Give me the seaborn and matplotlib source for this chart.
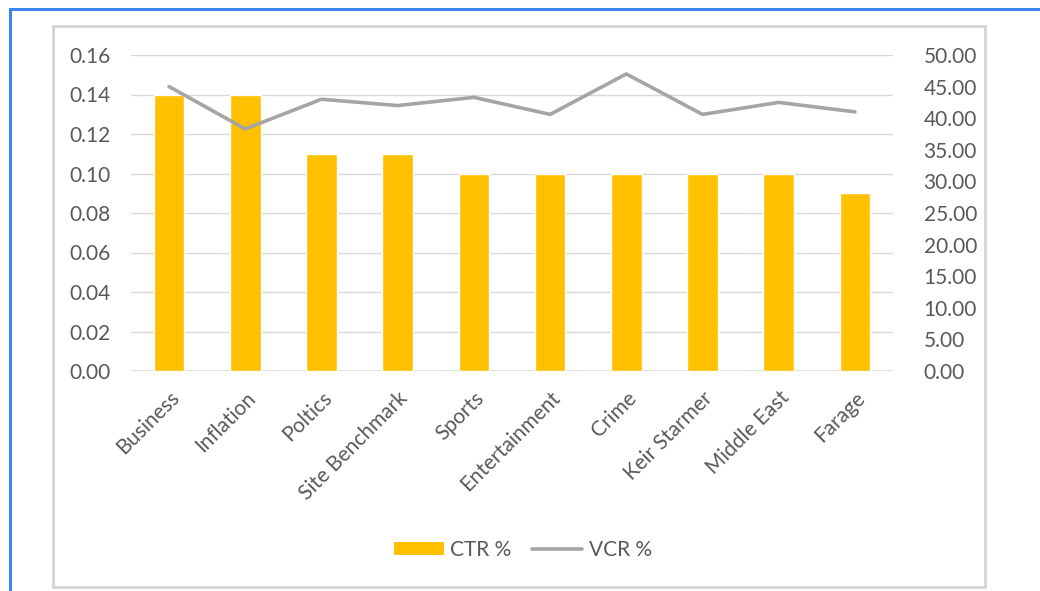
import matplotlib
matplotlib.use("Agg")
import matplotlib.pyplot as plt
from matplotlib.patches import Rectangle
from matplotlib.lines import Line2D
from matplotlib.patches import Patch
import numpy as np
import pandas as pd
import seaborn as sns

categories = ["Business", "Inflation", "Poltics", "Site Benchmark", "Sports",
              "Entertainment", "Crime", "Keir Starmer", "Middle East", "Farage"]
ctr = [0.14, 0.14, 0.11, 0.11, 0.10, 0.10, 0.10, 0.10, 0.10, 0.09]
vcr = [45.0, 38.3, 43.0, 42.0, 43.3, 40.6, 47.0, 40.6, 42.5, 41.0]

left_ticks = [0.00, 0.02, 0.04, 0.06, 0.08, 0.10, 0.12, 0.14, 0.16]
right_ticks = [0, 5, 10, 15, 20, 25, 30, 35, 40, 45, 50]

BAR = "#ffc000"
LINE = "#a5a5a5"
TEXT = "#595959"
GRID = "#d9d9d9"
FS = 15

sns.set_theme(style="white")
plt.rcParams["font.family"] = ["Lato", "DejaVu Sans"]

df = pd.DataFrame({"category": categories, "ctr": ctr, "vcr": vcr,
                   "pos": np.arange(len(categories))})

fig = plt.figure(figsize=(10.40, 5.91), dpi=100)

# page frame (left and top edges visible) and chart frame
fig.patches.append(Rectangle((9.5 / 1040, -0.2), 1.2, 1.2 - 8.5 / 591, transform=fig.transFigure,
                             fill=False, edgecolor="#3d85f0", linewidth=2.2, zorder=0))
fig.patches.append(Rectangle((53 / 1040, 1 - 587 / 591), 932 / 1040, 561 / 591,
                             transform=fig.transFigure, fill=False,
                             edgecolor="#d4d4d4", linewidth=2.0, zorder=0))

ax = fig.add_axes([131 / 1040, 1 - 371 / 591, 762 / 1040, 316 / 591])
sns.barplot(data=df, x="category", y="ctr", color=BAR, saturation=1,
            width=0.4, ax=ax, zorder=2)
ax.set_ylim(0, 0.16)
ax.set_xlim(-0.5, len(categories) - 0.5)
ax.set_yticks(left_ticks)
ax.set_yticklabels([f"{v:.2f}" for v in left_ticks])
ax.yaxis.grid(True, color=GRID, linewidth=1.0, zorder=0)
ax.set_axisbelow(True)
ax.set_xlabel("")
ax.set_ylabel("")
for s in ax.spines.values():
    s.set_visible(False)
ax.axhline(0, color=GRID, linewidth=1.2, zorder=1)
ax.tick_params(axis="y", length=0, colors=TEXT, labelsize=FS, pad=15)
ax.tick_params(axis="x", length=0, colors=TEXT, labelsize=FS, pad=12)
ax.set_xticks(range(len(categories)))
ax.set_xticklabels(categories, rotation=45, ha="right", rotation_mode="anchor")
for lbl in ax.get_xticklabels():
    lbl.set_color(TEXT)

ax2 = ax.twinx()
sns.lineplot(data=df, x="pos", y="vcr", color=LINE, linewidth=2.6, ax=ax2, zorder=3)
ax2.set_ylim(0, 50)
ax2.set_yticks(right_ticks)
ax2.set_yticklabels([f"{v:.2f}" for v in right_ticks])
ax2.set_ylabel("")
ax2.set_xlabel("")
ax2.set_xlim(-0.5, len(categories) - 0.5)
for s in ax2.spines.values():
    s.set_visible(False)
ax2.tick_params(axis="y", length=0, colors=TEXT, labelsize=FS, pad=22)

handles = [Patch(facecolor=BAR, edgecolor="none", label="CTR %"),
           Line2D([0], [0], color=LINE, linewidth=2.6, label="VCR %")]
fig.legend(handles=handles, loc="center", bbox_to_anchor=(523 / 1040, 1 - 550 / 591),
           ncol=2, frameon=False, fontsize=FS, labelcolor=TEXT,
           handlelength=2.4, handleheight=0.6, handletextpad=0.3, columnspacing=1.0)

fig.savefig("out.png", dpi=100, facecolor="white")
